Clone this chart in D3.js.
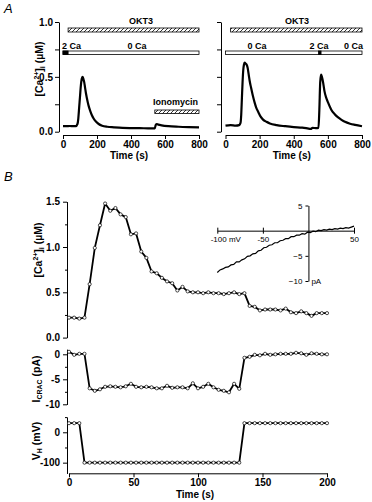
<!DOCTYPE html>
<html lang="en">
<head>
<meta charset="UTF-8">
<title>OKT3 calcium and I-CRAC</title>
<script src="https://d3js.org/d3.v7.min.js"></script>
<style>
  body { margin: 0; background: #fff; }
  svg { display: block; font-family: "Liberation Sans", Arial, sans-serif; }
  .axis path, .axis line { stroke: #000; stroke-width: 1; }
  .axis text { font-size: 10px; font-weight: bold; fill: #000; font-family: "Liberation Sans", Arial, sans-serif; }
  .inset text { font-size: 8px; font-weight: normal; }
  .lbl { font-size: 9px; font-weight: bold; }
  .title { font-size: 10.5px; font-weight: bold; }
</style>
</head>
<body>
<div id="chart"></div>
<script>
// panel A, left trace (time in s, [Ca2+]i in uM)
const timeA1 = [0,20,40,60,75,85,90,95,100,105,110,115,120,125,130,135,140,150,160,170,180,195,210,230,260,300,350,400,450,500,540,545,550,560,580,620,680,740,800];
const caA1 = [0.05,0.05,0.052,0.05,0.05,0.07,0.12,0.22,0.32,0.42,0.48,0.50,0.48,0.45,0.40,0.35,0.31,0.24,0.19,0.15,0.12,0.09,0.07,0.055,0.045,0.04,0.035,0.033,0.032,0.031,0.03,0.06,0.07,0.065,0.058,0.05,0.045,0.042,0.04];

// panel A, right trace
const timeA2 = [0,30,60,80,88,92,96,100,104,108,112,118,124,130,136,142,150,160,170,180,192,205,220,240,260,300,350,400,450,480,500,510,530,545,550,555,560,565,572,580,590,600,620,640,660,680,700,730,760,800];
const caA2 = [0.055,0.06,0.055,0.06,0.08,0.15,0.30,0.45,0.56,0.61,0.63,0.62,0.61,0.58,0.52,0.46,0.40,0.33,0.27,0.22,0.18,0.14,0.11,0.09,0.075,0.06,0.05,0.042,0.037,0.03,0.025,0.035,0.033,0.035,0.2,0.45,0.52,0.50,0.45,0.37,0.31,0.27,0.20,0.16,0.13,0.108,0.09,0.073,0.062,0.05];

// panel B, sampled every 4 s
const timeB = [0,4,8,12,16,20,24,28,32,36,40,44,48,52,56,60,64,68,72,76,80,84,88,92,96,100,104,108,112,116,120,124,128,132,136,140,144,148,152,156,160,164,168,172,176,180,184,188,192,196,200];
const caB = [0.22,0.22,0.21,0.22,0.59,0.99,1.24,1.48,1.40,1.43,
  1.36,1.33,1.14,1.15,0.95,0.88,0.73,0.71,0.66,0.62,
  0.60,0.52,0.56,0.51,0.50,0.50,0.49,0.50,0.49,0.49,
  0.48,0.49,0.50,0.48,0.49,0.35,0.34,0.30,0.31,0.31,
  0.31,0.30,0.32,0.28,0.27,0.29,0.27,0.24,0.27,0.27,0.27];
const icrac = [0.5,-0.1,0.1,0.1,-6.8,-7.3,-7.0,-6.5,-6.4,-6.5,
  -6.6,-6.4,-5.9,-6.5,-6.6,-6.5,-6.6,-6.8,-6.8,-6.3,
  -6.7,-6.6,-6.6,-6.8,-5.8,-6.8,-6.5,-5.9,-6.6,-7.1,
  -7.3,-7.6,-5.9,-6.9,-0.7,-0.5,-0.1,-0.2,0.1,-0.1,
  0,0.1,0.1,0.1,0.3,0.2,-0.1,0.2,0.1,0,0];
const vh = [30,30,30,-100,-100,-100,-100,-100,-100,-100,
  -100,-100,-100,-100,-100,-100,-100,-100,-100,-100,
  -100,-100,-100,-100,-100,-100,-100,-100,-100,-100,
  -100,-100,-100,-100,30,30,30,30,30,30,
  30,30,30,30,30,30,30,30,30,30,30];

// inset current-voltage relation
const ivV = [-100,-97,-94,-91,-88,-85,-82,-79,-76,-73,-70,-67,-64,-61,-58,-55,-52,-49,-46,-43,-40,-37,-34,-31,-28,-25,-22,-19,-16,-13,-10,-7,-4,-1,2,5,8,11,14,17,20,23,26,29,32,35,38,41,44,47,50];
const ivI = [-8.3,-7.8,-7.6,-7.3,-7.2,-6.8,-6.7,-6.2,-6.2,-5.8,-5.6,-5.1,-5.0,-4.6,-4.5,-4.0,-3.9,-3.4,-3.3,-2.9,-2.8,-2.4,-2.4,-2.0,-1.9,-1.6,-1.6,-1.2,-1.2,-0.9,-0.9,-0.6,-0.7,-0.3,-0.4,-0.1,-0.2,0.1,0.0,0.2,0.1,0.3,0.2,0.4,0.3,0.5,0.4,0.6,0.5,0.7,0.9];

const svg = d3.select("#chart").append("svg")
    .attr("width", 372)
    .attr("height", 502);

const defs = svg.append("defs");
const hatch = defs.append("pattern")
    .attr("id", "hatch")
    .attr("patternUnits", "userSpaceOnUse")
    .attr("width", 4)
    .attr("height", 4);
hatch.append("rect").attr("width", 4).attr("height", 4).attr("fill", "#fff");
hatch.append("path")
    .attr("d", "M0,4 L4,0 M-1,1 L1,-1 M3,5 L5,3")
    .attr("stroke", "#000")
    .attr("stroke-width", 0.8);

// ---------- panel A ----------
const xA1 = d3.scaleLinear().domain([0, 800]).range([63, 199]);
const xA2 = d3.scaleLinear().domain([0, 800]).range([225.5, 362]);
const yA = d3.scaleLinear().domain([0, 1]).range([131.7, 22]);

svg.append("text").attr("x", 4).attr("y", 13)
    .style("font-size", "13px").style("font-style", "italic").text("A");

function panelA(x, axisX, labels) {
    svg.append("g").attr("class", "axis")
        .attr("transform", `translate(${axisX},0)`)
        .call(d3.axisLeft(yA).tickValues([0, 0.25, 0.5, 0.75, 1])
            .tickSize(4).tickSizeOuter(0).tickPadding(2)
            .tickFormat(d => labels && (d === 0 || d === 0.5 || d === 1) ? d3.format(".1f")(d) : ""));
    svg.append("g").attr("class", "axis")
        .attr("transform", "translate(0,135)")
        .call(d3.axisBottom(x).tickValues([0, 200, 400, 600, 800])
            .tickSize(4).tickSizeOuter(0).tickPadding(2));
    const r = x.range();
    svg.append("text").attr("class", "lbl")
        .attr("x", (r[0] + r[1]) / 2 - 2).attr("y", 159)
        .attr("text-anchor", "middle").style("font-size", "10px").text("Time (s)");
}

panelA(xA1, 59, true);
panelA(xA2, 221, false);

const lineA1 = d3.line().x((d, i) => xA1(timeA1[i])).y(d => yA(d)).curve(d3.curveMonotoneX);
const lineA2 = d3.line().x((d, i) => xA2(timeA2[i])).y(d => yA(d)).curve(d3.curveMonotoneX);
svg.append("path").attr("d", lineA1(caA1)).attr("fill", "none").attr("stroke", "#000").attr("stroke-width", 2.2);
svg.append("path").attr("d", lineA2(caA2)).attr("fill", "none").attr("stroke", "#000").attr("stroke-width", 2.2);

function bar(x, t0, t1, y, h, fill) {
    svg.append("rect")
        .attr("x", x(t0)).attr("y", y)
        .attr("width", x(t1) - x(t0)).attr("height", h)
        .attr("fill", fill).attr("stroke", "#000").attr("stroke-width", 0.8);
}
function label(x, y, txt, anchor) {
    svg.append("text").attr("class", "lbl")
        .attr("x", x).attr("y", y).attr("text-anchor", anchor || "middle").text(txt);
}

// left treatment bars
bar(xA1, 30, 800, 28, 4, "url(#hatch)");
label(141, 24, "OKT3");
bar(xA1, 0, 800, 51, 3.5, "#fff");
bar(xA1, 0, 30, 51, 3.5, "#000");
label(62, 49, "2 Ca", "start");
label(137, 49, "0 Ca");
bar(xA1, 540, 800, 110, 3.5, "url(#hatch)");
label(153, 105, "Ionomycin", "start");

// right treatment bars
bar(xA2, 30, 800, 28, 4, "url(#hatch)");
label(297, 24, "OKT3");
bar(xA2, 0, 800, 51, 3.5, "#fff");
bar(xA2, 545, 560, 51, 3.5, "#000");
label(257, 49, "0 Ca");
label(319, 49, "2 Ca");
label(363, 49, "0 Ca", "end");

// y title panel A
function caTitle(x, y) {
    const t = svg.append("text").attr("class", "title")
        .attr("transform", `translate(${x},${y}) rotate(-90)`)
        .attr("text-anchor", "middle");
    t.append("tspan").text("[Ca");
    t.append("tspan").attr("dy", -4).style("font-size", "7px").text("2+");
    t.append("tspan").attr("dy", 4).text("]");
    t.append("tspan").attr("dy", 2).style("font-size", "7px").text("i");
    t.append("tspan").attr("dy", -2).text(" (\u00b5M)");
}
caTitle(43, 69);

// ---------- panel B ----------
svg.append("text").attr("x", 4).attr("y", 181)
    .style("font-size", "13px").style("font-style", "italic").text("B");

const xB = d3.scaleLinear().domain([0, 200]).range([69, 327]);
const yCa = d3.scaleLinear().domain([0, 1.5]).range([337.6, 201.7]);
const yI = d3.scaleLinear().domain([-10, 1]).range([404.3, 349.3]);
const yV = d3.scaleLinear().domain([-135, 50]).range([473.3, 417.1]);

function leftAxis(scale, major, minor, fmt) {
    const g = svg.append("g").attr("class", "axis").attr("transform", "translate(67,0)");
    g.call(d3.axisLeft(scale).tickValues(major).tickSize(4).tickSizeOuter(0).tickPadding(3).tickFormat(fmt));
    svg.append("g").attr("class", "axis").attr("transform", "translate(67,0)")
        .call(d3.axisLeft(scale).tickValues(minor).tickSize(2).tickSizeOuter(0).tickFormat(""));
}
leftAxis(yCa, [0, 0.5, 1, 1.5], [0.25, 0.75, 1.25], d3.format(".1f"));
leftAxis(yI, [0, -5, -10], [-2.5, -7.5], d => d);
leftAxis(yV, [0, -100], [50, -50], d => d);

svg.append("g").attr("class", "axis")
    .attr("transform", "translate(0,473.3)")
    .call(d3.axisBottom(xB).tickValues([0, 50, 100, 150, 200]).tickSize(4).tickSizeOuter(0).tickPadding(2));
svg.append("text").attr("class", "lbl")
    .attr("x", 195).attr("y", 498).attr("text-anchor", "middle")
    .style("font-size", "10px").text("Time (s)");

function trace(values, y) {
    const line = d3.line().x((d, i) => xB(timeB[i])).y(d => y(d));
    svg.append("path").attr("d", line(values))
        .attr("fill", "none").attr("stroke", "#000").attr("stroke-width", 1.8)
        .attr("stroke-linejoin", "round");
    svg.append("g").selectAll("circle")
        .data(values)
        .join("circle")
        .attr("cx", (d, i) => xB(timeB[i]))
        .attr("cy", d => y(d))
        .attr("r", 1.6)
        .attr("fill", "#fff")
        .attr("stroke", "#000")
        .attr("stroke-width", 0.7);
}
trace(caB, yCa);
trace(icrac, yI);
trace(vh, yV);

caTitle(42, 250);

const ti = svg.append("text").attr("class", "title")
    .attr("transform", "translate(40,379) rotate(-90)")
    .attr("text-anchor", "middle");
ti.append("tspan").text("I");
ti.append("tspan").attr("dy", 2).style("font-size", "7px").text("CRAC");
ti.append("tspan").attr("dy", -2).text(" (pA)");

const tv = svg.append("text").attr("class", "title")
    .attr("transform", "translate(40,441) rotate(-90)")
    .attr("text-anchor", "middle");
tv.append("tspan").text("V");
tv.append("tspan").attr("dy", 2).style("font-size", "7px").text("H");
tv.append("tspan").attr("dy", -2).text(" (mV)");

// ---------- inset I-V ----------
const xIV = d3.scaleLinear().domain([-100, 50]).range([217.3, 354]);
const yIV = d3.scaleLinear().domain([-10, 5]).range([281, 205.5]);

const ix = svg.append("g").attr("class", "axis inset")
    .attr("transform", `translate(0,${yIV(0)})`)
    .call(d3.axisBottom(xIV).tickValues([-100, -50, 50]).tickSize(3).tickSizeOuter(0).tickPadding(3)
        .tickFormat(d => d === -100 ? "-100 mV" : d));
ix.selectAll(".tick line").attr("y1", -3);
ix.selectAll(".tick text").filter(d => d === -100).attr("dx", 8);

svg.append("g").attr("class", "axis inset")
    .attr("transform", `translate(${xIV(0)},0)`)
    .call(d3.axisLeft(yIV).tickValues([5, -5, -10]).tickSize(3).tickSizeOuter(0).tickPadding(3));
svg.append("text").attr("x", xIV(0) + 3).attr("y", yIV(-10) + 3)
    .style("font-size", "8px").text("pA");

const ivLine = d3.line().x((d, i) => xIV(ivV[i])).y(d => yIV(d));
svg.append("path").attr("d", ivLine(ivI))
    .attr("fill", "none").attr("stroke", "#000").attr("stroke-width", 1.2);
</script>
</body>
</html>
